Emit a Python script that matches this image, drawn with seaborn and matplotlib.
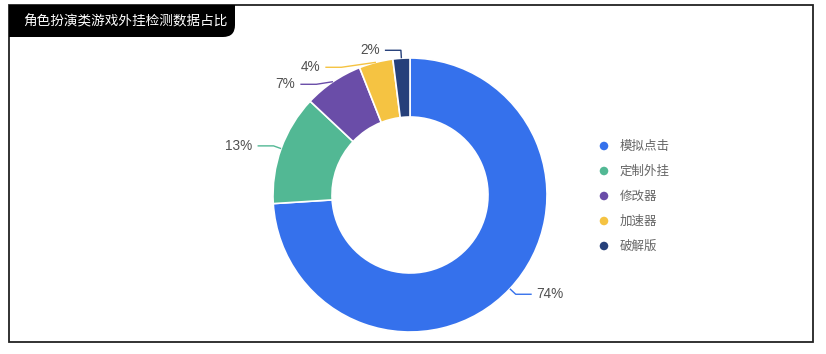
import numpy as np
import matplotlib
matplotlib.use("Agg")
import matplotlib.pyplot as plt
import matplotlib.patches as mpatches
import seaborn as sns

# ---- data ----
title = "角色扮演类游戏外挂检测数据占比"
categories = ["模拟点击", "定制外挂", "修改器", "加速器", "破解版"]
values = [74, 13, 7, 4, 2]
colors = ["#3571EC", "#52B894", "#6A4DA8", "#F5C342", "#26407A"]

sns.set_theme(style="white")
plt.rcParams["font.family"] = ["Noto Sans CJK SC", "DejaVu Sans"]

W, H = 826, 354
fig = plt.figure(figsize=(W / 100, H / 100), dpi=100)
ax = fig.add_axes([0, 0, 1, 1])

def py(y):  # pixel-from-top -> data y
    return H - y

cx, cy = 410, py(195)
R, r_in = 137, 78

wedges, _ = ax.pie(values, colors=colors, startangle=90, counterclock=False,
                   radius=R, center=(cx, cy),
                   wedgeprops=dict(width=R - r_in, edgecolor="white", linewidth=1.2))

ax.set_xlim(0, W)
ax.set_ylim(0, H)
ax.set_aspect("equal")
ax.axis("off")

# ---- leader lines & labels (ECharts-like) ----
len1, len2, gap, min_gap = 8, 16, 5, 17
R1 = R + len1
items = []
for w, v, c in zip(wedges, values, colors):
    mid = np.deg2rad((w.theta1 + w.theta2) / 2)
    p0 = (cx + R * np.cos(mid), cy + R * np.sin(mid))
    p1 = (cx + R1 * np.cos(mid), cy + R1 * np.sin(mid))
    side = 1 if np.cos(mid) >= 0 else -1
    items.append(dict(p0=p0, p1=list(p1), side=side, v=v, c=c))

# resolve overlap on each side (top to bottom); shifted labels follow the circle
for s in (1, -1):
    grp = sorted([it for it in items if it["side"] == s], key=lambda it: -it["p1"][1])
    prev = None
    for it in grp:
        if prev is not None and prev - it["p1"][1] < min_gap:
            it["p1"][1] = prev - min_gap
            dy = it["p1"][1] - cy
            it["p1"][0] = cx + s * np.sqrt(max(R1 ** 2 - dy ** 2, 0))
        prev = it["p1"][1]

for it in items:
    p0, p1, s = it["p0"], it["p1"], it["side"]
    p2 = (p1[0] + s * len2, p1[1])
    ax.plot([p0[0], p1[0], p2[0]], [p0[1], p1[1], p2[1]], color=it["c"], lw=1.0,
            solid_capstyle="butt")
    ax.text(p2[0] + s * gap, p2[1], f"{it['v']}%", ha="left" if s > 0 else "right",
            va="center", fontsize=9.8, color="#505050", family=["Liberation Sans"])

# ---- legend ----
for i, (cat, c) in enumerate(zip(categories, colors)):
    y = py(146 + 25 * i)
    ax.scatter([604], [y], s=38, color=c, edgecolor="none", zorder=3)
    ax.text(620, y, cat, ha="left", va="center", fontsize=9, color="#666666")

# ---- frame ----
frame = mpatches.Rectangle((9, py(342)), 804, 337, fill=False, edgecolor="#222222",
                           lw=1.3, zorder=5)
ax.add_patch(frame)

# ---- title tab (rounded bottom-right corner) ----
tx0, tx1, ty0, ty1, rr = 9, 235, py(37), py(5), 12
ax.add_patch(mpatches.FancyBboxPatch((tx0, ty0), tx1 - tx0, ty1 - ty0,
                                     boxstyle=f"round,pad=0,rounding_size={rr}",
                                     facecolor="black", edgecolor="none", zorder=6))
ax.add_patch(mpatches.Rectangle((tx0, ty0), tx1 - tx0 - rr, ty1 - ty0,
                                facecolor="black", edgecolor="none", zorder=6))
ax.add_patch(mpatches.Rectangle((tx0, ty0 + rr), tx1 - tx0, ty1 - ty0 - rr,
                                facecolor="black", edgecolor="none", zorder=6))
ax.text(23, (ty0 + ty1) / 2, title, ha="left", va="center", fontsize=9.8,
        color="white", zorder=7, fontweight="medium")

fig.savefig("out.png", dpi=100, facecolor="white")
